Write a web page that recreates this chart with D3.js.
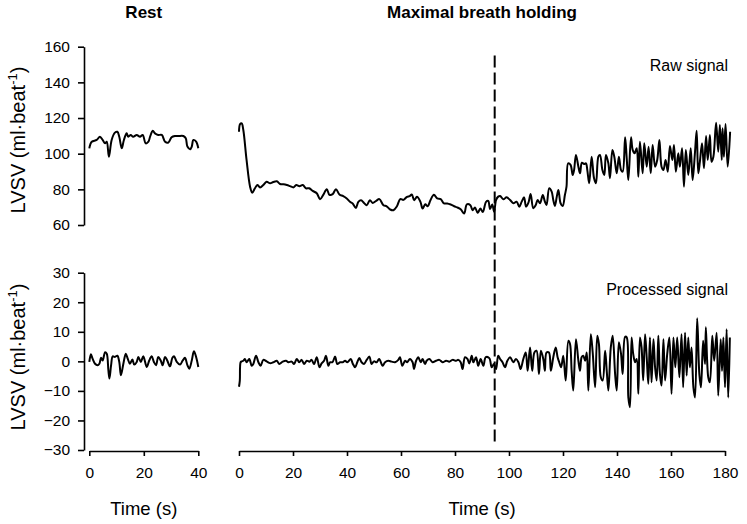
<!DOCTYPE html>
<html>
<head>
<meta charset="utf-8">
<script src="https://cdn.jsdelivr.net/npm/d3@7"></script>
<style>
  html, body { margin: 0; padding: 0; background: #fff; }
  svg { display: block; }
  text { font-family: Arial, "Liberation Sans", sans-serif; fill: #000; }
</style>
</head>
<body>
<svg id="chart" width="747" height="524"></svg>
<script>
// ---------------- Data ----------------
const panelTitles = ["Rest", "Maximal breath holding"];
const signalLabels = ["Raw signal", "Processed signal"];
const xLabel = "Time (s)";
const rawTicks = [60, 80, 100, 120, 140, 160];
const procTicks = [-30, -20, -10, 0, 10, 20, 30];
const restTicks = [0, 20, 40];
const holdTicks = [0, 20, 40, 60, 80, 100, 120, 140, 160, 180];
const breakPoint = 94.7; // dashed vertical line (s)

// Rest, raw LVSV
const restRawT = [0,0.9,2.7,3.9,4.9,5.8,6.4,7.2,8.2,9.4,10.3,11.0,11.9,12.7,13.7,14.3,15.2,16.1,17.4,18.6,19.6,20.7,21.7,22.3,23.3,24.1,25.3,26.6,27.8,29.0,30.2,31.4,32.7,34.5,35.4,36.0,37.0,37.6,38.2,39.2,40];
const restRaw = [103.0,106.7,107.7,109.5,107.7,105.8,106.7,98.3,107.7,111.8,112.3,109.5,103.0,107.7,111.4,109.5,110.5,109.5,110.5,109.5,110.5,105.8,106.7,109.5,112.9,111.4,110.5,110.5,106.7,106.2,109.2,109.9,109.9,109.9,108.6,104.0,102.5,104.0,107.7,106.7,103.0];

// Rest, processed LVSV
const restProcT = [0,0.6,1.2,2.1,3.0,3.7,4.3,4.9,5.8,6.4,7.0,7.4,8.0,8.6,9.4,10.3,11.0,11.6,12.5,13.4,14.1,14.9,15.8,16.5,17.4,18.0,18.9,19.8,21.1,22.0,22.9,23.7,24.5,25.3,26.2,26.9,27.8,28.6,29.6,30.5,31.1,32.1,33.3,34.3,35.1,36.0,36.7,37.6,38.4,39.2,40];
const restProc = [-0.2,2.4,0.9,-0.8,-1.3,-0.8,1.2,0.3,3.1,2.6,-3.0,-5.8,-1.3,1.7,1.5,1.9,-0.2,-4.7,-0.8,2.6,0.9,-0.8,0.6,-1.1,-0.2,1.5,-0.2,1.7,-1.9,0.3,1.7,-0.2,-1.3,1.5,0.3,-1.3,1.5,0.3,-1.7,1.2,1.7,-0.2,-1.1,0.3,1.2,-1.3,-2.5,0.3,3.4,1.5,-1.9];

// Breath holding, raw LVSV
const holdRawT = [0,0.4,1.0,1.6,2.8,4.1,4.9,5.9,6.8,7.8,9.0,10.2,11.5,12.7,14.0,15.2,16.5,17.7,18.9,20.2,21.2,22.4,23.6,24.8,26.0,27.3,28.8,30.0,31.2,32.5,33.5,34.7,35.9,37.2,38.6,39.9,41.1,42.1,43.3,44.2,45.2,46.3,47.3,48.5,49.5,50.8,52.0,53.5,54.7,56.0,57.2,58.5,59.7,60.9,62.2,63.2,64.0,64.9,65.9,67.2,68.0,69.0,69.9,70.9,72.2,73.4,74.7,75.9,77.1,78.4,79.7,80.9,82.2,83.4,84.4,85.7,86.5,87.4,88.4,89.4,90.3,91.5,92.3,93.0,93.8,94.5,95.2,96.0,
  96.7,97.9,99.1,100.4,101.6,102.8,103.8,104.7,105.6,106.3,107.2,108.0,109.0,109.9,110.6,111.5,112.5,113.3,113.9,114.9,115.8,116.4,117.0,117.7,118.3,119.1,119.9,120.7,121.3,121.9,122.8,123.6,124.1,124.8,125.7,126.3,127.0,127.8,128.5,129.0,129.7,130.6,131.5,132.2,133.1,133.7,134.6,135.3,135.9,136.8,137.4,138.3,139.0,139.9,140.7,141.5,142.1,143.0,143.6,144.2,145.2,145.8,146.5,147.3,147.9,148.5,149.5,150.1,151.0,151.7,152.5,153.2,154.1,154.9,155.7,156.5,157.2,158.0,158.8,159.6,160.5,161.1,161.8,162.7,163.3,164.1,164.8,165.5,166.4,167.3,168.0,168.9,169.5,170.1,170.7,171.5,172.2,173.0,173.6,174.4,175.0,175.7,176.7,177.5,178.1,178.8,179.1,179.6,180.2,181.0,181.9];
const holdRaw = [112.3,116.6,117.0,113.3,96.5,81.5,78.1,80.6,82.4,81.1,82.4,84.3,83.4,84.1,84.5,83.0,82.8,82.4,81.8,81.1,82.4,81.8,82.4,80.6,80.6,79.1,77.8,74.5,76.9,80.1,76.9,77.3,80.1,77.1,76.2,74.9,73.0,72.1,69.6,73.0,73.9,72.4,71.1,73.9,72.4,73.6,74.5,71.1,70.5,68.7,68.3,70.5,74.5,74.1,75.8,76.2,77.1,73.9,75.8,73.0,69.2,71.6,70.5,73.9,76.9,74.9,74.5,72.1,72.1,71.5,70.5,69.8,68.7,66.4,71.6,71.1,68.3,69.8,66.8,69.2,67.3,73.0,73.5,69.0,71.5,67.5,74.0,75.9,
  76.3,74.4,75.5,74.0,72.2,73.1,70.3,73.1,75.5,70.3,72.5,77.4,69.4,71.2,74.0,72.2,76.8,73.1,71.2,80.6,78.7,74.0,70.7,75.9,79.6,72.2,70.7,76.8,81.5,94.6,93.7,88.0,90.8,99.3,92.7,89.0,94.9,94.2,94.6,90.8,83.4,98.3,86.2,83.4,98.3,99.3,90.8,88.0,99.3,94.6,86.2,102.1,98.3,89.0,98.3,90.8,89.9,109.2,97.4,85.2,109.2,102.1,100.2,103.0,87.1,106.7,89.0,105.8,92.7,103.9,89.0,104.9,92.7,96.5,107.7,92.7,90.8,96.5,89.9,104.3,96.5,104.9,89.9,100.2,92.7,103.0,81.5,102.1,88.0,103.0,85.2,101.1,112.9,89.0,95.5,105.8,91.8,109.9,96.5,110.5,95.5,98.3,117.4,101.1,116.1,96.5,114.2,98.3,116.6,92.7,112.3];

// Breath holding, processed LVSV
const holdProcT = [0,0.3,0.6,1.0,1.6,2.2,2.8,3.8,4.7,5.3,6.3,7.2,8.0,9.0,10.2,11.5,12.7,14.0,14.9,16.2,17.4,18.3,19.5,20.4,21.4,22.3,23.2,24.1,25.1,26.1,26.9,27.8,28.8,29.8,30.6,31.5,32.2,33.1,33.7,34.6,35.6,36.4,37.4,38.4,39.3,40.1,41.4,42.1,43.0,43.8,44.6,45.4,46.3,47.3,48.3,49.1,50.0,51.0,51.9,53.2,54.1,55.3,56.5,57.8,59.0,59.6,60.5,61.5,62.3,63.3,64.3,64.8,65.6,66.4,67.3,68.0,68.9,69.5,70.5,71.7,73.0,74.2,75.4,76.7,77.9,79.1,80.4,81.2,82.1,82.8,83.7,84.6,85.3,86.2,86.8,87.8,88.6,89.5,90.5,91.4,92.7,93.6,94.4,95.2,96.0,
  96.7,97.6,98.5,99.4,100.4,101.6,102.6,103.5,104.3,105.3,106.2,106.9,107.8,108.6,109.4,110.2,111.1,111.8,112.7,113.3,113.9,114.8,115.5,116.4,117.3,118.0,118.6,119.3,120.1,121.0,122.0,122.6,123.2,123.8,124.8,125.7,126.3,126.9,127.5,128.2,128.8,129.4,130.3,131.0,131.9,132.7,133.3,134.0,134.7,135.6,136.2,136.8,137.7,138.4,139.3,139.9,140.7,141.5,142.1,143.0,143.6,144.2,144.8,145.4,146.0,146.7,147.3,147.9,148.5,149.1,149.7,150.4,151.0,151.6,152.2,152.8,153.5,154.1,154.7,155.3,155.9,156.5,157.2,157.8,158.6,159.4,160.2,160.9,161.6,162.3,163.1,163.9,164.5,165.2,165.8,166.4,167.0,167.6,168.3,168.9,169.7,170.5,171.1,171.9,172.6,172.9,173.8,174.4,175.3,176.0,176.9,177.5,178.4,178.9,179.4,180.0,180.6,181.2,181.8];
const holdProc = [-8.6,-6.5,-0.3,0,0.2,0.8,-0.3,0.8,-1.5,-0.9,1.9,-0.3,-1.5,0.5,0,-0.6,-0.3,0.2,-0.9,-0.1,0.2,-0.3,-0.1,-0.9,0.8,-0.3,0.5,-0.9,0.2,-0.1,0.5,-0.9,1.4,-2.0,-0.7,0.2,1.9,-1.5,-0.3,-0.3,1.6,-0.9,-0.3,-0.3,0.2,-0.3,0.8,-0.7,-2.0,-0.3,1.1,-0.3,-0.9,0.5,1.6,-0.9,0,-0.3,0.8,-1.5,-0.3,0.2,-0.1,-0.3,0.5,1.4,-1.5,0.2,-0.3,0.8,-0.3,-2.6,0.2,1.4,-0.3,0.8,-0.9,0.2,0.8,-0.3,0.2,0.5,-0.3,0.2,-0.1,0.5,0.2,0.5,-0.3,-2.6,1.4,0.8,-0.7,1.9,-0.3,1.4,-1.5,0.8,-1.5,1.4,1.1,-2.0,-0.9,-2.6,1.9,
  0.8,-0.3,-2.0,0.2,1.4,-0.3,0.8,-0.3,-2.6,0.8,3.0,-3.2,4.7,-3.2,3.0,3.6,-4.3,3.6,0.8,-3.2,3.0,3.0,-3.2,1.4,4.7,1.4,-0.3,-2.0,1.9,-6.5,7.0,5.9,-3.2,-9.9,7.5,0.2,-3.2,1.4,1.9,0.2,3.0,-9.9,9.2,3.0,-8.8,8.7,5.9,-5.4,-6.5,3.6,-3.2,-9.9,4.7,8.7,-4.3,-9.9,6.5,2.5,-4.3,8.3,8.1,-12.2,-15.5,8.1,2.5,-0.3,0.8,-11.0,8.1,4.7,-6.5,9.2,1.4,-7.6,8.1,-7.1,7.5,-2.0,-6.5,8.7,-4.3,-8.2,7.5,-6.5,2.5,8.1,-11.0,8.1,-2.0,8.1,-5.4,9.2,-8.8,9.7,-4.8,8.1,-2.0,4.7,-8.8,-12.2,14.6,-4.3,-8.8,7.0,-0.9,11.5,-5.4,-7.1,8.7,0.2,9.7,-11.6,7.5,-3.2,8.1,-8.8,10.9,-12.2,8.1];

// ---------------- Scales ----------------
const xRest = d3.scaleLinear().domain([0, 40]).range([89.3, 198.3]);
const xHold = d3.scaleLinear().domain([0, 180]).range([239, 725]);
const yRaw = d3.scaleLinear().domain([60, 160]).range([225, 46.7]);
const yProc = d3.scaleLinear().domain([-30, 30]).range([450, 272.7]);

const svg = d3.select("#chart");
const FONT = 'Arial, "Liberation Sans", sans-serif';

function styleAxis(g) {
  g.selectAll("path.domain").attr("stroke", "#000").attr("stroke-width", 1.6);
  g.selectAll(".tick line").attr("stroke", "#000").attr("stroke-width", 1.6);
  g.selectAll(".tick text").attr("font-size", 15.5).attr("font-family", FONT).attr("fill", "#000");
}

// Y axes
svg.append("g").attr("transform", "translate(84,0)")
  .call(d3.axisLeft(yRaw).tickValues(rawTicks).tickSize(6).tickSizeOuter(0).tickPadding(8))
  .call(styleAxis);
svg.append("g").attr("transform", "translate(84,0)")
  .call(d3.axisLeft(yProc).tickValues(procTicks).tickSize(6).tickSizeOuter(0).tickPadding(8))
  .call(styleAxis);

// X axes
svg.append("g").attr("transform", "translate(0,451)")
  .call(d3.axisBottom(xRest).tickValues(restTicks).tickSize(5).tickSizeOuter(0).tickPadding(11))
  .call(styleAxis);
svg.append("g").attr("transform", "translate(0,451)")
  .call(d3.axisBottom(xHold).tickValues(holdTicks).tickSize(5).tickSizeOuter(0).tickPadding(11))
  .call(styleAxis);

// Lines
function drawLine(tArr, vArr, xs, ys) {
  const pts = tArr.map((t, i) => [t, vArr[i]]);
  const line = d3.line().x(d => xs(d[0])).y(d => ys(d[1])).curve(d3.curveCatmullRom.alpha(0.5));
  svg.append("path").datum(pts)
    .attr("d", line)
    .attr("fill", "none")
    .attr("stroke", "#000")
    .attr("stroke-width", 2)
    .attr("stroke-linejoin", "round");
}
drawLine(restRawT, restRaw, xRest, yRaw);
drawLine(restProcT, restProc, xRest, yProc);
drawLine(holdRawT, holdRaw, xHold, yRaw);
drawLine(holdProcT, holdProc, xHold, yProc);

// Dashed line at breaking point
svg.append("line")
  .attr("x1", xHold(breakPoint)).attr("x2", xHold(breakPoint))
  .attr("y1", yRaw(155)).attr("y2", yProc(-28))
  .attr("stroke", "#000").attr("stroke-width", 2)
  .attr("stroke-dasharray", "12,5");

// Titles
svg.append("text").attr("x", (xRest(0) + xRest(40)) / 2).attr("y", 18)
  .attr("text-anchor", "middle").attr("font-size", 17).attr("font-weight", "bold").text(panelTitles[0]);
svg.append("text").attr("x", (xHold(0) + xHold(180)) / 2).attr("y", 18)
  .attr("text-anchor", "middle").attr("font-size", 17).attr("font-weight", "bold").text(panelTitles[1]);

// Signal labels
svg.append("text").attr("x", 728).attr("y", 71).attr("text-anchor", "end")
  .attr("font-size", 16).text(signalLabels[0]);
svg.append("text").attr("x", 728).attr("y", 295).attr("text-anchor", "end")
  .attr("font-size", 16).text(signalLabels[1]);

// X labels
svg.append("text").attr("x", (xRest(0) + xRest(40)) / 2).attr("y", 515)
  .attr("text-anchor", "middle").attr("font-size", 18.5).text(xLabel);
svg.append("text").attr("x", (xHold(0) + xHold(180)) / 2).attr("y", 515)
  .attr("text-anchor", "middle").attr("font-size", 18.5).text(xLabel);

// Y labels with superscript
function yLabel(cy) {
  const t = svg.append("text")
    .attr("transform", `translate(25,${cy}) rotate(-90)`)
    .attr("text-anchor", "middle").attr("font-size", 20);
  t.append("tspan").text("LVSV (ml\u00B7beat");
  t.append("tspan").attr("dy", -8).attr("font-size", 13).text("-1");
  t.append("tspan").attr("dy", 8).text(")");
}
yLabel(140);
yLabel(357);
</script>
</body>
</html>
